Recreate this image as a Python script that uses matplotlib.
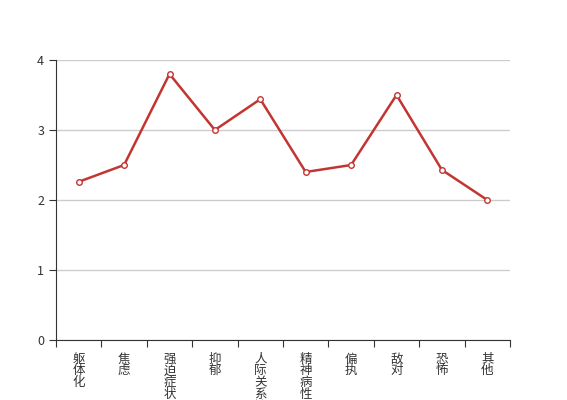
import matplotlib
matplotlib.use('Agg')
import matplotlib.pyplot as plt
import numpy as np

plt.rcParams['font.family'] = ['Noto Sans CJK SC', 'DejaVu Sans']

categories = ['躯体化', '焦虑', '强迫症状', '抑郁', '人际关系敏感',
              '精神病性', '偏执', '敌对', '恐怖', '其他']
values = [2.26, 2.5, 3.8, 3.0, 3.44, 2.4, 2.5, 3.5, 2.43, 2.0]
yticks = [0, 1, 2, 3, 4]

fig = plt.figure(figsize=(5.67, 4.0), dpi=100)
ax = fig.add_axes([56 / 567, 60 / 400, 454 / 567, 280 / 400])

x = np.arange(len(categories))
ax.plot(x, values, color='#c23531', linewidth=1.8, marker='o', markersize=4,
        markerfacecolor='white', markeredgecolor='#c23531', markeredgewidth=1,
        zorder=3, clip_on=False)

ax.set_xlim(-0.5, len(categories) - 0.5)
ax.set_ylim(0, 4)
ax.set_yticks(yticks)
ax.yaxis.grid(True, color='#cccccc', linewidth=1)
ax.set_axisbelow(True)

# ticks on category boundaries, labels at centres
ax.set_xticks(np.arange(-0.5, len(categories), 1))
ax.set_xticklabels([])
ax.set_xticks(x, minor=True)
ax.set_xticklabels(['\n'.join(c) for c in categories], minor=True,
                   fontsize=9, color='#333333', linespacing=0.88, va='top')
ax.tick_params(axis='x', which='minor', length=0, pad=9)
ax.tick_params(axis='x', which='major', length=5, color='#333333')
ax.tick_params(axis='y', length=5, labelsize=9, colors='#333333')

for s in ['top', 'right']:
    ax.spines[s].set_visible(False)
ax.spines['left'].set_color('#333333')
ax.spines['bottom'].set_color('#333333')

fig.savefig('out.png', dpi=100)
